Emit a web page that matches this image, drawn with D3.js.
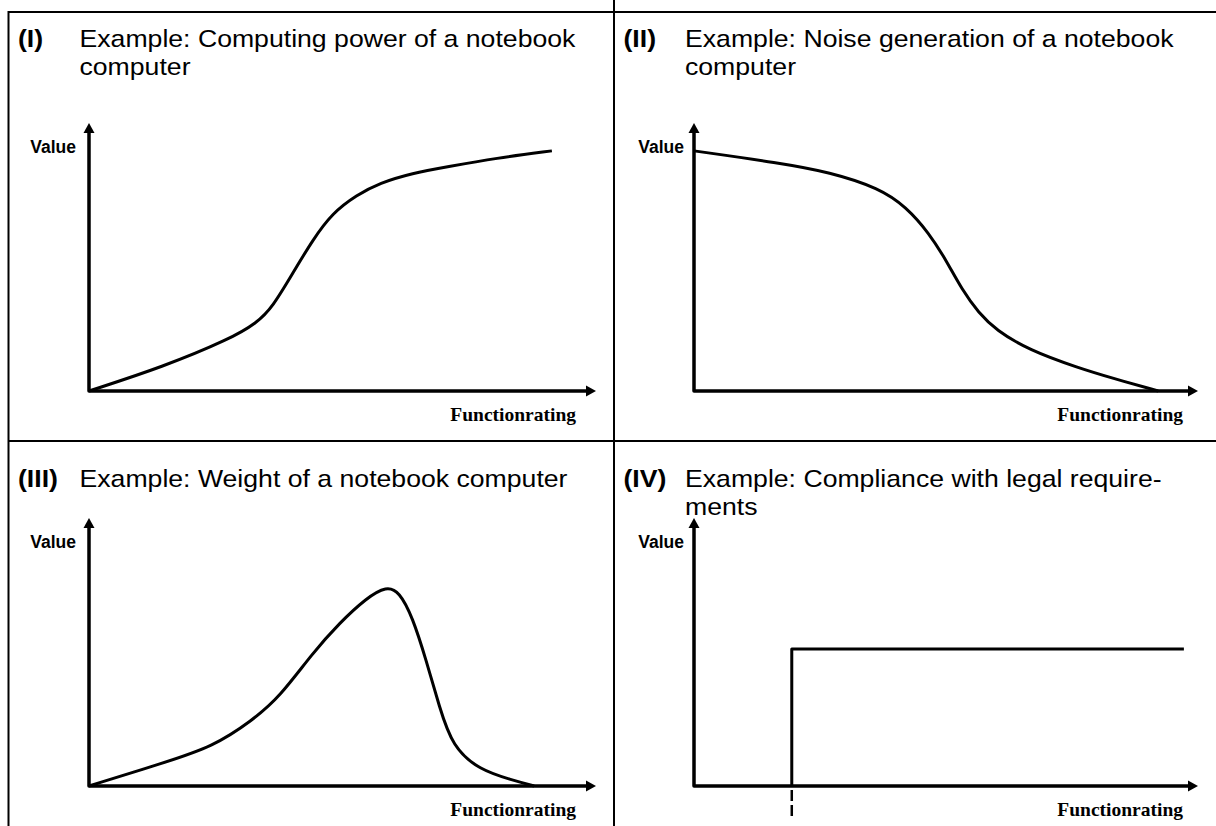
<!DOCTYPE html>
<html>
<head>
<meta charset="utf-8">
<script src="https://cdn.jsdelivr.net/npm/d3@7"></script>
<style>
  html, body { margin: 0; padding: 0; background: #fff; }
  svg { display: block; }
</style>
</head>
<body>
<div id="chart"></div>
<script>
// ---- data (functionrating 0..100 along x, value 0..100 along y) ----
const panelLabels = ["(I)", "(II)", "(III)", "(IV)"];
const panelTitles = [
  ["Example: Computing power of a notebook", "computer"],
  ["Example: Noise generation of a notebook", "computer"],
  ["Example: Weight of a notebook computer"],
  ["Example: Compliance with legal require-", "ments"]
];
const xAxisLabel = "Functionrating";
const yAxisLabel = "Value";

// (I) computing power
const powerRating = [0, 14.6, 27.8, 33.1, 36.2, 40.2, 44.1, 48.0, 52.8, 57.3, 63.8, 70.5, 80.3, 91.3];
const powerValue  = [0, 9.0, 19.4, 25.4, 31.3, 44.0, 56.3, 66.4, 73.1, 77.6, 81.3, 83.6, 86.9, 89.6];

// (II) noise generation
const noiseRating = [0, 17.0, 26.9, 36.8, 42.1, 46.6, 50.0, 53.2, 56.5, 59.9, 66.4, 76.3, 82.8, 92.1];
const noiseValue  = [89.6, 85.1, 81.7, 75.7, 68.7, 59.0, 48.9, 37.7, 29.1, 22.8, 15.3, 8.6, 4.9, 0];

// (III) weight
const weightRating = [0, 14.6, 24.4, 32.3, 37.6, 44.1, 49.4, 54.7, 58.7, 61.2, 63.8, 66.5, 69.1, 71.7, 77.0, 83.5, 87.8];
const weightValue  = [0, 8.6, 14.6, 24.6, 33.2, 49.6, 60.8, 70.1, 74.6, 72.5, 63.1, 47.0, 29.5, 14.6, 6.0, 2.2, 0];

// (IV) legal compliance: a step
const complianceRating = [19.4, 19.4, 97.2];
const complianceValue  = [0, 51.1, 51.1];
const complianceThreshold = 19.4;

// ---- layout ----
const W = 1216, H = 826;
const borderTop = 12, borderLeft = 8.5, dividerX = 614, dividerY = 441;
const colAxisX = [89, 694], colTipX = [596, 1198], colLeft = [borderLeft, dividerX];
const rowOriginY = [391, 786], rowTipY = [123, 518], rowTitleY = [47, 487];
const valueRight = [76, 684];
const ratingRight = [576, 1183];
const titleSize = 24, titleStretch = 1.11, lineGap = 28;
const arrowLen = 10, arrowHalf = 5.5;

const svg = d3.select('#chart').append('svg')
  .attr('width', W).attr('height', H);

// frame lines
const frame = svg.append('g').attr('stroke', '#000').attr('stroke-width', 2);
frame.append('line').attr('x1', borderLeft).attr('x2', W).attr('y1', borderTop).attr('y2', borderTop);
frame.append('line').attr('x1', borderLeft).attr('x2', borderLeft).attr('y1', borderTop - 1).attr('y2', H);
frame.append('line').attr('x1', dividerX).attr('x2', dividerX).attr('y1', 0).attr('y2', H);
frame.append('line').attr('x1', borderLeft).attr('x2', W).attr('y1', dividerY).attr('y2', dividerY);

const curves = [
  { r: powerRating, v: powerValue, curve: d3.curveBasis },
  { r: noiseRating, v: noiseValue, curve: d3.curveBasis },
  { r: weightRating, v: weightValue, curve: d3.curveBasis },
  { r: complianceRating, v: complianceValue, curve: d3.curveLinear }
];

panelLabels.forEach(function(label, i) {
  const col = i % 2, row = Math.floor(i / 2);
  const left = colLeft[col];
  const g = svg.append('g');

  const x = d3.scaleLinear().domain([0, 100]).range([colAxisX[col], colTipX[col]]);
  const y = d3.scaleLinear().domain([0, 100]).range([rowOriginY[row], rowTipY[row]]);

  // title
  const ty = rowTitleY[row];
  g.append('text')
    .attr('transform', 'translate(' + (left + 9.5) + ',' + ty + ') scale(' + titleStretch + ',1)')
    .attr('font-family', 'Liberation Sans, Arial, sans-serif')
    .attr('font-weight', 'bold')
    .attr('font-size', titleSize)
    .text(label);
  panelTitles[i].forEach(function(line, k) {
    g.append('text')
      .attr('transform', 'translate(' + (left + 71) + ',' + (ty + k * lineGap) + ') scale(' + titleStretch + ',1)')
      .attr('font-family', 'Liberation Sans, Arial, sans-serif')
      .attr('font-size', titleSize)
      .text(line);
  });

  // axes: one path through the corner, arrowheads at the tips
  const axisLine = d3.line().x(d => d[0]).y(d => d[1]);
  g.append('path')
    .attr('d', axisLine([
      [x(0), y(100) + arrowLen - 1],
      [x(0), y(0)],
      [x(100) - arrowLen + 1, y(0)]
    ]))
    .attr('fill', 'none').attr('stroke', '#000')
    .attr('stroke-width', 3.5).attr('stroke-linejoin', 'round');
  g.append('path')
    .attr('d', 'M' + x(0) + ',' + y(100) + 'L' + (x(0) - arrowHalf) + ',' + (y(100) + arrowLen) +
               'L' + (x(0) + arrowHalf) + ',' + (y(100) + arrowLen) + 'Z')
    .attr('fill', '#000');
  g.append('path')
    .attr('d', 'M' + x(100) + ',' + y(0) + 'L' + (x(100) - arrowLen) + ',' + (y(0) - arrowHalf) +
               'L' + (x(100) - arrowLen) + ',' + (y(0) + arrowHalf) + 'Z')
    .attr('fill', '#000');

  // axis labels
  g.append('text')
    .attr('x', valueRight[col]).attr('y', y(100) + 30)
    .attr('text-anchor', 'end')
    .attr('font-family', 'Liberation Sans, Arial, sans-serif')
    .attr('font-weight', 'bold').attr('font-size', 17.5)
    .text(yAxisLabel);
  g.append('text')
    .attr('x', ratingRight[col]).attr('y', y(0) + 30)
    .attr('text-anchor', 'end')
    .attr('font-family', 'Liberation Serif, Times New Roman, serif')
    .attr('font-weight', 'bold').attr('font-size', 19.5)
    .text(xAxisLabel);

  // the value function
  const c = curves[i];
  const line = d3.line()
    .x(d => x(d[0]))
    .y(d => y(d[1]))
    .curve(c.curve);
  g.append('path')
    .datum(d3.zip(c.r, c.v))
    .attr('d', line)
    .attr('fill', 'none').attr('stroke', '#000')
    .attr('stroke-width', 3).attr('stroke-linejoin', 'round');

  if (i === 3) {
    // dashed marker below the axis at the legal threshold
    g.append('line')
      .attr('x1', x(complianceThreshold)).attr('x2', x(complianceThreshold))
      .attr('y1', y(0) + 4).attr('y2', y(0) + 33)
      .attr('stroke', '#000').attr('stroke-width', 2.5)
      .attr('stroke-dasharray', '11,4');
  }
});
</script>
</body>
</html>
